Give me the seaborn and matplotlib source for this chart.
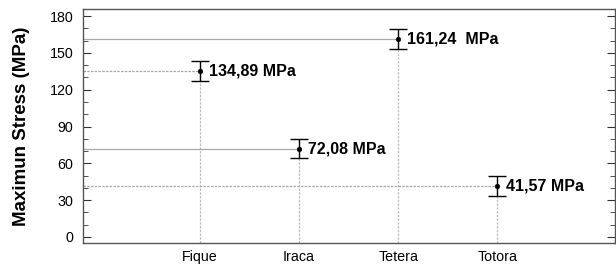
import numpy as np
import pandas as pd
import seaborn as sns
import matplotlib.pyplot as plt
from matplotlib.ticker import MultipleLocator

# Dados
fibras = ['Fique', 'Iraca', 'Tetera', 'Totora']
tensao = [134.89, 72.08, 161.24, 41.57]
desvio = [8.2, 8.0, 8.2, 8.1]
rotulos = ['134,89 MPa', '72,08 MPa', '161,24  MPa', '41,57 MPa']
estilo_h = [(0, (2, 1)), '-', '-', (0, (2, 1))]

sns.set_style("ticks")
plt.rcParams['font.family'] = ['Liberation Sans', 'DejaVu Sans']
plt.rcParams['text.color'] = 'black'
plt.rcParams['axes.labelcolor'] = 'black'

df = pd.DataFrame({'pos': np.arange(len(fibras)), 'Fibra': fibras,
                   'Tensao': tensao, 'Desvio': desvio})

fig = plt.figure(figsize=(6.16, 2.68), dpi=100)
ax = fig.add_axes([0.1347, 0.0933, 0.864, 0.873])

x_min, x_max = -1.18, 4.19
y_min, y_max = -4.9, 185.7

# Linhas de referência até os eixos
for i, row in df.iterrows():
    ax.hlines(row['Tensao'], x_min, row['pos'], color='#a8a8a8', lw=0.9,
              ls=estilo_h[i], zorder=1)
    ax.vlines(row['pos'], y_min, row['Tensao'], color='#bdbdbd', lw=0.9,
              ls=(0, (2, 1)), zorder=1)

ax.errorbar(df['pos'], df['Tensao'], yerr=df['Desvio'], fmt='none',
            ecolor='black', elinewidth=1, capsize=6.5, capthick=1, zorder=2)
sns.scatterplot(data=df, x='pos', y='Tensao', color='black', s=12,
                edgecolor='black', ax=ax, zorder=3)

for i, row in df.iterrows():
    ax.text(row['pos'] + 0.09, row['Tensao'], rotulos[i], fontsize=11.5,
            fontweight='bold', va='center', ha='left', color='black')

ax.set_xlim(x_min, x_max)
ax.set_ylim(y_min, y_max)
ax.set_xticks(df['pos'])
ax.set_xticklabels(fibras, fontsize=10.3)
ax.set_yticks(np.arange(0, 181, 30))
ax.yaxis.set_minor_locator(MultipleLocator(10))
ax.tick_params(axis='y', which='both', direction='in', right=True,
               labelsize=10.3, colors='#333333', labelcolor='black', pad=7)
ax.tick_params(axis='y', which='major', length=6)
ax.tick_params(axis='y', which='minor', length=3.5)
ax.tick_params(axis='x', length=0, pad=5, labelcolor='black')
ax.set_xlabel('')
ax.set_ylabel('Maximun Stress (MPa)', fontsize=13.5, fontweight='bold', labelpad=14)
for s in ax.spines.values():
    s.set_color('#555555')
    s.set_linewidth(1)

plt.savefig('out.png', dpi=100)
